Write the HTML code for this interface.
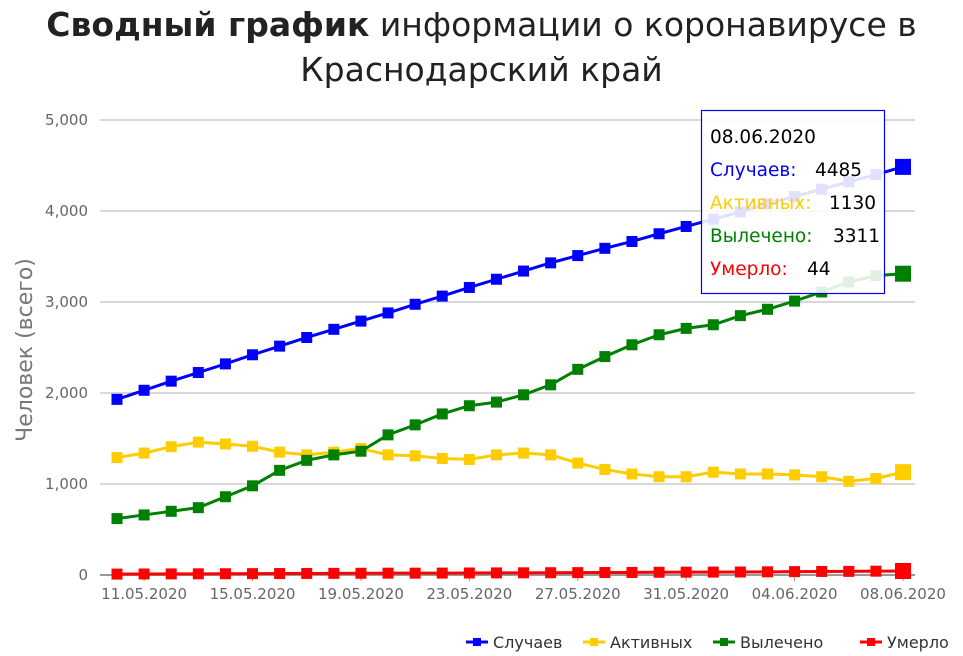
<!DOCTYPE html>
<html><head><meta charset="utf-8"><style>
body{margin:0;background:#fff;width:963px;height:656px;overflow:hidden;font-family:"Liberation Sans","DejaVu Sans",sans-serif}
h1{position:absolute;left:0;top:2px;width:963px;margin:0;text-align:center;font-weight:normal;font-size:33px;line-height:45px;color:#222;font-family:"DejaVu Sans",sans-serif}
svg{position:absolute;left:0;top:0}
</style></head><body>
<h1><b>Сводный график</b> информации о коронавирусе в Краснодарский край</h1>
<svg id="c" width="963" height="656"></svg>
<script>
const dates=["10.05.2020","11.05.2020","12.05.2020","13.05.2020","14.05.2020","15.05.2020","16.05.2020","17.05.2020","18.05.2020","19.05.2020","20.05.2020","21.05.2020","22.05.2020","23.05.2020","24.05.2020","25.05.2020","26.05.2020","27.05.2020","28.05.2020","29.05.2020","30.05.2020","31.05.2020","01.06.2020","02.06.2020","03.06.2020","04.06.2020","05.06.2020","06.06.2020","07.06.2020","08.06.2020"];
const cases=[1930,2030,2130,2225,2320,2420,2515,2610,2700,2790,2880,2975,3065,3160,3250,3340,3430,3510,3590,3665,3750,3830,3910,3990,4080,4160,4240,4320,4400,4485];
const active=[1290,1340,1410,1460,1440,1415,1350,1320,1350,1390,1320,1310,1280,1270,1320,1340,1320,1230,1160,1110,1080,1080,1130,1110,1110,1100,1080,1030,1060,1130];
const recovered=[620,660,700,740,860,980,1150,1260,1320,1360,1540,1650,1770,1860,1900,1980,2090,2260,2400,2530,2640,2710,2750,2850,2920,3010,3110,3220,3290,3311];
const deaths=[10,11,12,13,14,15,16,17,18,19,20,20,21,22,23,24,25,26,27,28,30,31,32,33,35,37,39,40,42,44];
const yTicks=[0,1000,2000,3000,4000,5000];
const yTickLabels=["0","1,000","2,000","3,000","4,000","5,000"];
const series=[["Случаев",cases,"#0000ff","cases"],["Активных",active,"#ffcc00","active"],["Вылечено",recovered,"#008000","recovered"],["Умерло",deaths,"#ff0000","deaths"]];
const svg=document.getElementById('c'),NS="http://www.w3.org/2000/svg";
const X0=117,X1=903,Y0=575,Y1=120,YMAX=5000;
const x=i=>X0+(X1-X0)*i/(dates.length-1);
const y=v=>Y0-(Y0-Y1)*v/YMAX;
function el(t,a,p){const e=document.createElementNS(NS,t);for(const k in a)e.setAttribute(k,a[k]);(p||svg).appendChild(e);return e;}
yTicks.forEach((v,i)=>{
 const g=el('line',{x1:100,x2:915,y1:y(v),y2:y(v),stroke:v?'#ccc':'#999','stroke-width':v?1.5:2});
 
 
 const t=el('text',{x:88,y:y(v)+5,'text-anchor':'end','font-size':15,fill:'#666','font-family':'DejaVu Sans,sans-serif'});
 t.textContent=yTickLabels[i];
 
 
});
const yt=el('text',{transform:'translate(32,350) rotate(-90)','text-anchor':'middle','font-size':22,fill:'#777','font-family':'DejaVu Sans,sans-serif'});
yt.textContent='Человек (всего)';


dates.forEach((d,i)=>{
 if(i%4!==1)return;
 el('line',{x1:x(i),x2:x(i),y1:Y0,y2:Y0+6,stroke:'#999'});
 const t=el('text',{x:x(i),y:599,'text-anchor':'middle','font-size':15,fill:'#666','font-family':'DejaVu Sans,sans-serif'});
 t.textContent=d;
 
 
});
series.forEach(([name,vals,col,key])=>{
 const g=el('g',{});
 
 
 el('polyline',{points:vals.map((v,i)=>x(i)+','+y(v)).join(' '),fill:'none',stroke:col,'stroke-width':3},g);
 vals.forEach((v,i)=>{
  const s=i===vals.length-1?16:11;
  const r=el('rect',{x:x(i)-s/2,y:y(v)-s/2,width:s,height:s,fill:col},g);
  
  
 });
});
const lg=el('g',{});


const lx=[466,583,713,860];
series.forEach(([name,vals,col,key],i)=>{
 const it=el('g',{},lg);
 
 
 el('line',{x1:lx[i],x2:lx[i]+22,y1:642,y2:642,stroke:col,'stroke-width':3},it);
 el('rect',{x:lx[i]+7,y:638,width:8,height:8,fill:col},it);
 const t=el('text',{x:lx[i]+27,y:648,'font-size':16,fill:'#333','font-family':'DejaVu Sans,sans-serif'},it);
 t.textContent=name;
});
const tg=el('g',{});


el('rect',{x:701.5,y:110.5,width:183,height:183,fill:'#fff','fill-opacity':0.88,stroke:'#0000ff','stroke-width':1.2},tg);
const rows=[[dates[29],"#000",""],["Случаев:","#0000ff",cases[29]],["Активных:","#ffcc00",active[29]],["Вылечено:","#008000",recovered[29]],["Умерло:","#ff0000",deaths[29]]];
const vx=[0,815,829,833,807];
rows.forEach((r,i)=>{
 const t=el('text',{x:710,y:143+i*33,'font-size':18.5,fill:r[1],'font-family':'DejaVu Sans,sans-serif'},tg);
 t.textContent=r[0];
 if(i){const v=el('text',{x:vx[i],y:143+i*33,'font-size':18.5,fill:'#000','font-family':'DejaVu Sans,sans-serif'},tg);v.textContent=r[2];}
});
</script>
</body></html>
